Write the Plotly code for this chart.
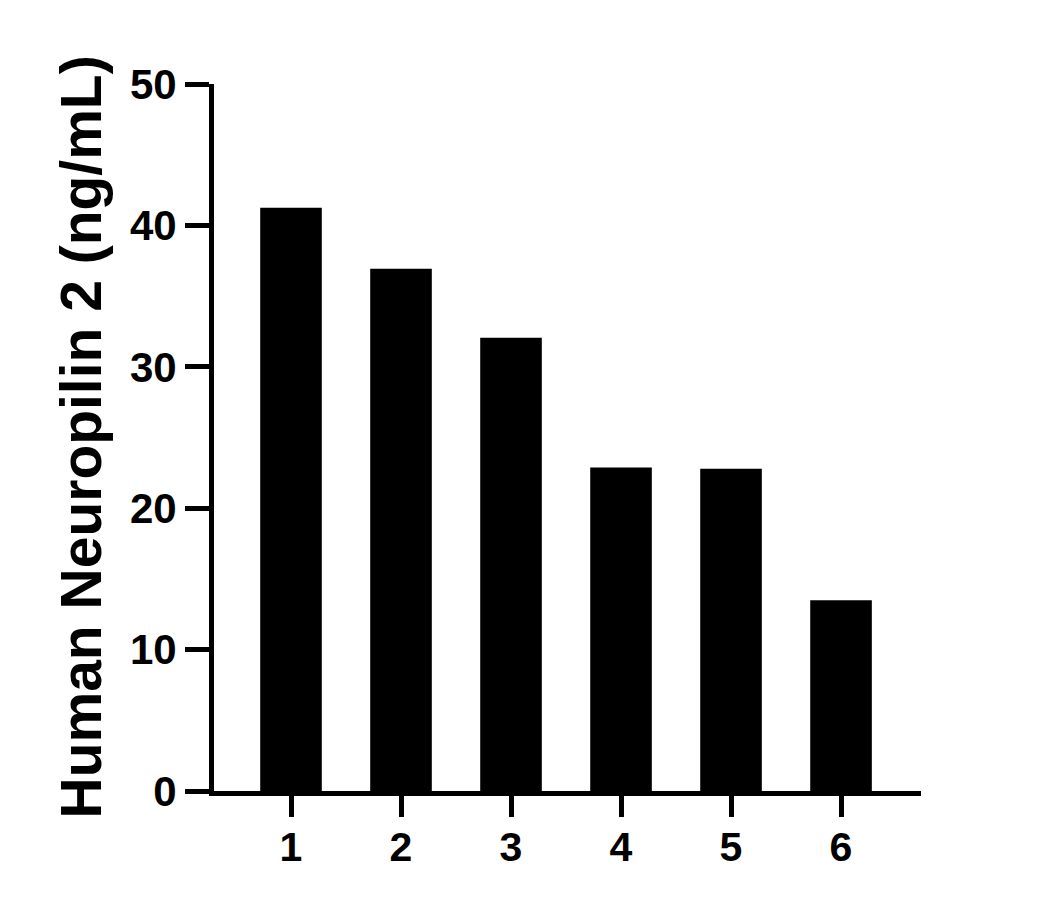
import plotly.graph_objects as go

# Sample numbers on the x axis, measured concentration on the y axis
samples = [1, 2, 3, 4, 5, 6]
concentration = [41.24, 36.94, 32.06, 22.88, 22.79, 13.49]
y_ticks = [0, 10, 20, 30, 40, 50]

FONT = "Liberation Sans, Arial, sans-serif"

# page has an 8px body margin, so margins are trimmed to land the axes
# where the reference has them
LEFT, RIGHT, TOP, BOTTOM = 206, 145, 76, 125
PLOT_W = 1058 - LEFT - RIGHT

fig = go.Figure()

fig.add_trace(go.Bar(
    x=samples,
    y=concentration,
    width=0.56,
    marker=dict(color="black", line=dict(width=0)),
))

fig.update_layout(
    width=1058,
    height=908,
    margin=dict(l=LEFT, r=RIGHT, t=TOP, b=BOTTOM),
    plot_bgcolor="white",
    paper_bgcolor="white",
    showlegend=False,
    font=dict(family=FONT, color="black"),
)

fig.update_xaxes(
    range=[0.3, 6.727],
    tickvals=samples,
    ticktext=[f"<b>{s}</b>" for s in samples],
    tickfont=dict(size=41, family=FONT, color="black"),
    ticklabelstandoff=-5,
    showline=True,
    linewidth=5,
    linecolor="black",
    ticks="outside",
    ticklen=21,
    tickwidth=5,
    tickcolor="black",
    showgrid=False,
    zeroline=False,
)

fig.update_yaxes(
    range=[0, 50],
    tickvals=y_ticks,
    ticktext=[f"<b>{t}</b>" for t in y_ticks],
    tickfont=dict(size=42, family=FONT, color="black"),
    showline=True,
    linewidth=5,
    linecolor="black",
    ticks="outside",
    ticklen=24,
    tickwidth=5,
    tickcolor="black",
    showgrid=False,
    zeroline=False,
)

# y axis title placed by hand so it sits where the reference has it
fig.add_annotation(
    text="<b>Human Neuropilin 2 (ng/mL)</b>",
    xref="paper",
    yref="paper",
    x=(72 - LEFT) / PLOT_W,
    y=0.5,
    xanchor="center",
    yanchor="middle",
    textangle=-90,
    showarrow=False,
    font=dict(size=57, family=FONT, color="black"),
)

fig.write_html("out.html")
